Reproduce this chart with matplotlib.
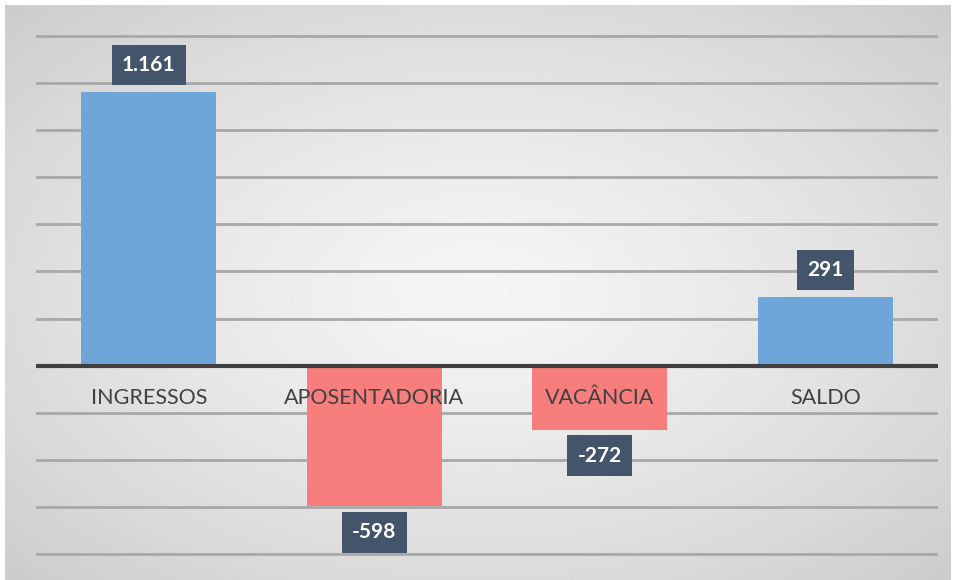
import numpy as np
import matplotlib.pyplot as plt

# dados
categorias = ["INGRESSOS", "APOSENTADORIA", "VACÂNCIA", "SALDO"]
valores = [1161, -598, -272, 291]
rotulos = ["1.161", "-598", "-272", "291"]

cor_pos = "#6fa6da"
cor_neg = "#f87e7e"
cor_caixa = "#44546a"

plt.rcParams['font.family'] = ['Lato', 'DejaVu Sans']

fig = plt.figure(figsize=(9.56, 5.80), dpi=100, facecolor="white")

# fundo com degradê radial
bg = fig.add_axes([5/956, 0, 946/956, 575/580], zorder=0)
yy, xx = np.mgrid[-1:1:300j, -1:1:500j]
r = np.sqrt(xx**2 + yy**2) / np.sqrt(2)
tons = 0.96 - 0.16 * r**1.3
bg.imshow(tons, cmap="gray", vmin=0, vmax=1, aspect="auto", interpolation="bilinear")
bg.axis("off")

# eixo principal
ymin, ymax = -810, 1410
px = 518 / 2200
alt = (ymax - ymin) * px
topo = 36 - (ymax - 1400) * px
ax = fig.add_axes([36/956, 1 - (topo + alt)/580, 902/956, alt/580], zorder=1)
ax.patch.set_alpha(0)

x = np.arange(len(categorias))
cores = [cor_pos if v > 0 else cor_neg for v in valores]
ax.bar(x, valores, width=0.6, color=cores, zorder=2)

ax.set_xlim(-0.5, 3.5)
ax.set_ylim(ymin, ymax)
ax.set_yticks(range(-800, 1401, 200))
ax.yaxis.grid(True, color="#a8a8a8", lw=2)
ax.set_axisbelow(True)
ax.axhline(0, color="#3f3f3f", lw=3, zorder=3)
ax.tick_params(left=False, bottom=False, labelleft=False, labelbottom=False)
for s in ax.spines.values():
    s.set_visible(False)

# rótulos das categorias
for i, nome in enumerate(categorias):
    ax.annotate(nome, (i, 0), xytext=(0, -32), textcoords="offset pixels",
                ha="center", va="center", fontsize=15.5, color="#404040", zorder=4)

# rótulos dos valores
for i, (v, txt) in enumerate(zip(valores, rotulos)):
    desl = 27 if v > 0 else -26
    ax.annotate(txt, (i, v), xytext=(0, desl), textcoords="offset pixels",
                ha="center", va="center", fontsize=15, fontweight="bold",
                color="white", zorder=5,
                bbox=dict(boxstyle="square,pad=0.49", fc=cor_caixa, ec="none"))

fig.savefig("out.png", dpi=100)
